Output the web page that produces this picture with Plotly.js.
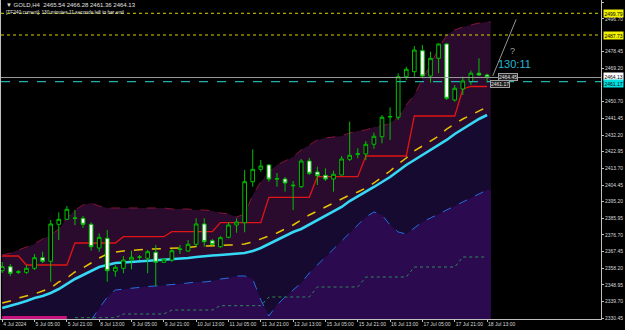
<!DOCTYPE html>
<html><head><meta charset="utf-8">
<script src="https://cdn.plot.ly/plotly-3.0.1.min.js"></script>
<style>html,body{margin:0;padding:0;background:#000;}#chart{width:625px;height:330px;}</style>
</head><body><div id="chart"></div>
<script>
// ---- data (GOLD, H4) ----
const tickBars = [0,4,8,12,16,20,24,28,32,36,40,44,48,52,56,60];
const tickLabels = ['4 Jul 2024','5 Jul 05:00','5 Jul 21:00','8 Jul 13:00','9 Jul 05:00','9 Jul 21:00','10 Jul 13:00','11 Jul 05:00','11 Jul 21:00','12 Jul 13:00','15 Jul 05:00','15 Jul 21:00','16 Jul 13:00','17 Jul 05:00','17 Jul 21:00','18 Jul 13:00'];
const priceTicks = [2330.45,2339.70,2348.95,2358.20,2367.45,2376.70,2385.95,2395.20,2404.45,2413.70,2422.95,2432.20,2441.45,2450.70,2469.20,2478.45,2496.70,2505.90];
const priceTickText = priceTicks.map(v => v.toFixed(2));

const open  = [2356.88,2359.10,2355.90,2355.99,2358.21,2364.10,2362.10,2382.64,2385.40,2385.90,2385.97,2382.64,2369.48,2374.87,2356.71,2358.21,2362.81,2364.30,2363.76,2367.09,2361.54,2362.81,2368.60,2367.82,2371.53,2382.81,2373.53,2370.20,2375.42,2382.25,2383.52,2406.29,2413.17,2415.57,2407.70,2407.79,2404.00,2403.50,2417.78,2411.67,2409.84,2407.79,2410.01,2418.73,2421.50,2421.67,2427.06,2431.28,2442.20,2442.05,2464.59,2467.36,2479.02,2464.98,2474.80,2482.74,2451.65,2457.76,2461.81,2466.53,2465.54];
const high  = [2361.70,2360.60,2357.30,2360.00,2366.10,2367.43,2385.00,2389.30,2392.80,2390.60,2387.20,2383.75,2377.60,2379.50,2360.00,2365.00,2367.98,2365.60,2368.40,2371.20,2363.90,2368.90,2371.20,2373.90,2385.97,2385.97,2374.50,2376.10,2383.90,2385.97,2412.79,2424.28,2418.34,2416.00,2411.10,2408.90,2406.68,2418.90,2419.45,2414.60,2413.70,2412.40,2420.56,2439.60,2424.83,2428.90,2433.50,2443.30,2447.60,2466.50,2470.10,2481.60,2482.20,2478.46,2483.10,2483.13,2459.98,2464.60,2468.00,2474.80,2466.28];
const low   = [2355.60,2353.90,2355.00,2355.00,2357.30,2361.15,2350.77,2373.90,2385.00,2382.20,2380.60,2367.98,2367.40,2350.77,2353.55,2355.43,2357.66,2362.80,2355.43,2348.38,2361.15,2361.70,2366.15,2367.40,2370.20,2370.20,2370.80,2369.60,2374.87,2377.98,2378.20,2403.50,2411.84,2406.29,2403.50,2400.77,2390.60,2402.80,2410.00,2404.46,2406.70,2400.74,2410.00,2417.78,2419.30,2418.30,2424.60,2427.60,2429.40,2440.60,2462.80,2464.60,2463.70,2461.26,2466.50,2451.65,2450.70,2454.40,2460.00,2465.00,2461.36];
const close = [2359.10,2355.43,2356.30,2358.21,2364.10,2362.10,2382.81,2385.40,2390.97,2386.10,2382.64,2370.20,2375.42,2356.88,2358.77,2362.81,2364.32,2364.50,2367.43,2361.54,2363.21,2367.98,2368.90,2371.53,2382.81,2372.97,2371.48,2375.20,2382.25,2383.92,2406.29,2413.17,2415.01,2407.79,2408.00,2405.57,2404.30,2417.78,2410.96,2409.62,2407.79,2410.40,2418.90,2420.95,2421.80,2427.06,2431.50,2442.05,2442.50,2464.59,2468.70,2479.41,2464.98,2474.80,2482.74,2452.59,2458.15,2462.20,2466.53,2465.50,2464.13];

const upperBand = [2365.59,2366.70,2368.37,2370.03,2371.70,2374.48,2376.70,2380.03,2386.14,2390.58,2393.37,2394.46,2392.80,2391.69,2391.69,2391.69,2391.69,2391.69,2391.69,2391.69,2391.69,2391.13,2391.13,2391.13,2390.58,2390.58,2390.02,2388.91,2388.36,2386.69,2388.36,2398.91,2406.12,2411.68,2415.56,2417.78,2420.01,2423.89,2426.67,2429.45,2430.55,2431.11,2431.66,2433.33,2434.44,2435.00,2436.66,2437.22,2438.88,2442.21,2448.87,2454.43,2463.31,2471.08,2480.52,2487.74,2490.51,2492.18,2493.29,2494.40,2494.96];
const slowMA = [2336.17,2337.28,2338.67,2340.06,2341.72,2342.83,2344.50,2346.72,2349.49,2352.27,2354.49,2356.71,2358.93,2360.04,2361.15,2361.43,2361.71,2361.98,2362.26,2362.54,2362.82,2363.37,2363.65,2363.93,2364.48,2365.04,2365.31,2365.59,2365.87,2366.15,2366.70,2367.82,2369.48,2371.70,2373.92,2376.15,2378.37,2380.03,2382.53,2385.03,2387.53,2390.02,2392.25,2395.57,2398.07,2400.57,2403.35,2406.12,2408.90,2412.23,2415.56,2418.34,2421.11,2423.89,2426.67,2429.45,2432.77,2435.55,2438.32,2441.10,2443.32];
const fastMA = [2338.94,2340.06,2341.72,2342.83,2343.94,2345.61,2347.27,2350.60,2352.82,2356.16,2358.37,2361.15,2363.93,2366.15,2367.26,2367.82,2368.37,2368.54,2368.76,2368.93,2369.09,2369.20,2369.31,2369.76,2370.31,2370.59,2370.87,2371.15,2371.15,2371.15,2371.70,2372.81,2374.48,2376.15,2377.81,2380.03,2382.25,2385.03,2387.81,2390.02,2392.25,2394.46,2396.68,2398.91,2400.57,2402.79,2405.57,2408.90,2412.23,2416.12,2419.45,2423.34,2426.11,2428.89,2431.66,2435.55,2438.32,2441.10,2443.32,2445.55,2447.76];
const dailyLevel = [2365.04,2365.04,2365.04,2360.04,2360.04,2360.04,2360.04,2360.04,2360.04,2372.26,2372.26,2372.26,2372.26,2372.26,2372.26,2375.76,2375.76,2375.76,2375.76,2375.76,2375.76,2378.53,2378.53,2378.53,2378.53,2378.53,2378.53,2383.53,2383.53,2383.53,2383.53,2383.53,2383.53,2397.63,2397.63,2397.63,2397.63,2397.63,2397.63,2409.07,2409.07,2409.07,2409.07,2409.07,2409.07,2420.56,2420.56,2420.56,2420.56,2420.56,2420.56,2442.77,2442.77,2442.77,2442.77,2442.77,2442.77,2457.76,2459.15,2459.15,2459.15];
const lowLevel = [null,null,null,null,null,null,null,null,null,2330.78,2330.78,2330.78,2330.78,2330.78,2330.78,2332.84,2332.84,2332.84,2332.84,2332.84,2332.84,2335.06,2335.06,2335.06,2335.06,2335.06,2335.06,2337.45,2337.45,2337.45,2337.45,2337.45,2337.45,2342.28,2342.28,2342.28,2342.28,2342.28,2342.28,2347.83,2347.83,2347.83,2347.83,2347.83,2347.83,2353.38,2353.38,2353.38,2353.38,2353.38,2353.38,2358.93,2358.93,2358.93,2358.93,2358.93,2358.93,2364.48,2364.48,2364.48,2364.48];
const lowerCloud = [null,null,null,null,null,null,null,null,null,null,null,2329.51,2336.17,2342.28,2346.16,2346.72,2347.27,2347.83,2348.11,2348.38,2348.94,2349.22,2349.49,2350.05,2350.60,2350.60,2351.16,2352.27,2352.82,2353.94,2353.94,2352.27,2340.61,2331.73,2337.83,2342.28,2346.16,2350.05,2355.60,2360.04,2364.48,2368.37,2372.81,2377.81,2382.25,2386.69,2389.47,2387.80,2382.25,2378.36,2377.25,2380.59,2383.92,2386.14,2388.36,2390.58,2392.80,2395.02,2397.24,2399.46,2401.68];

const resistance1 = 2499.79, resistance2 = 2487.73, bidPrice = 2464.13, cyanLevel = 2461.80;
const trendX = [60.7, 63.6], trendY = [2465.0, 2496.4];
const sessionBars = [0, 8];
const headerText = '\u25BC GOLD,H4  2465.54 2466.28 2461.36 2464.13';
const timerText = '[TF240 current]: 130 minutes 11 seconds left to bar end';

// ---- build ----
const N = open.length;
const idx = open.map((_, i) => i);
const xe = idx.concat([N - 1 + 0.45]);
const ext = a => a.concat([a[a.length - 1]]);
const yBottom = 2330.06, yTop = 2507.17;
const xRange = [-0.15, 74.1];

const traces = [
  {x: xe, y: ext(upperBand), type:'scatter', mode:'lines', fill:'tozeroy', fillcolor:'#2a0b2d',
   line:{color:'#8a1238', width:1, dash:'dash'}, hoverinfo:'skip'},
  {x: xe, y: ext(slowMA), type:'scatter', mode:'lines', fill:'tozeroy', fillcolor:'#170a30',
   line:{color:'rgba(0,0,0,0)', width:0}, hoverinfo:'skip'},
  {x: xe, y: ext(lowerCloud), type:'scatter', mode:'lines', fill:'tozeroy', fillcolor:'#2b0a50',
   line:{color:'#2070e0', width:1, dash:'dash'}, hoverinfo:'skip', connectgaps:false},
  {x: idx, y: lowLevel, type:'scatter', mode:'lines', line:{color:'#2e8b57', width:1, dash:'dot'}, hoverinfo:'skip'},
  {x: idx, y: dailyLevel, type:'scatter', mode:'lines', line:{color:'#e01515', width:1.3}, hoverinfo:'skip'},
  {x: idx, y: fastMA, type:'scatter', mode:'lines', line:{color:'#e8c400', width:1.5, dash:'dash'}, hoverinfo:'skip'},
  {x: idx, y: slowMA, type:'scatter', mode:'lines', line:{color:'#35d8f5', width:2.6}, hoverinfo:'skip'},
  {x: sessionBars, y: [yBottom + 0.8, yBottom + 0.8], type:'scatter', mode:'lines', line:{color:'#c8157e', width:3}, hoverinfo:'skip'},
  {x: idx, open: open, high: high, low: low, close: close, type:'candlestick', xaxis:'x2', yaxis:'y2',
   increasing:{line:{color:'#00c000', width:1}, fillcolor:'#000000'},
   decreasing:{line:{color:'#00c000', width:1}, fillcolor:'#ffffff'},
   whiskerwidth:0, hoverinfo:'skip'},
  {x: trendX, y: trendY, type:'scatter', mode:'lines', xaxis:'x2', yaxis:'y2', line:{color:'#bdbdbd', width:0.8}, hoverinfo:'skip'}
];

const hline = (y, color, dash, w) => ({type:'line', xref:'paper', x0:0, x1:1, yref:'y', y0:y, y1:y,
  line:{color:color, width:w || 1, dash:dash}, layer:'above'});

const FAM = 'Liberation Sans, Arial, sans-serif';
const xFont = {family:FAM, size:5, color:'#d8d8d8'};
const yFont = {family:FAM, size:5, color:'#d8d8d8'};
const boxLabel = (y, text, bg, ys) => ({xref:'paper', x:1, xanchor:'left', xshift:2, yshift:ys || 0, yref:'y', y:y, yanchor:'middle',
  text:text, showarrow:false, bgcolor:bg, font:{family:FAM, size:5, color:'#000'}, borderpad:0.5});

const layout = {
  width:625, height:330, margin:{l:1, r:24, t:0, b:11},
  paper_bgcolor:'#000', plot_bgcolor:'#000', showlegend:false, boxgap:0.35,
  xaxis:{range:xRange, showgrid:false, zeroline:false, tickvals:tickBars, ticktext:tickLabels,
    ticks:'outside', ticklen:2, tickcolor:'#c0c0c0', tickfont:xFont, tickangle:0, ticklabelposition:'outside right',
    automargin:false,
    showline:true, linecolor:'#c0c0c0', linewidth:1, rangeslider:{visible:false}, fixedrange:true},
  yaxis:{range:[yBottom, yTop], side:'right', showgrid:false, zeroline:false, tickvals:priceTicks, ticktext:priceTickText,
    ticks:'outside', ticklen:2, tickcolor:'#c0c0c0', tickfont:yFont, showline:true, mirror:true, automargin:false,
    linecolor:'#c0c0c0', linewidth:1, fixedrange:true},
  xaxis2:{overlaying:'x', range:xRange, visible:false, rangeslider:{visible:false}, fixedrange:true},
  yaxis2:{overlaying:'y', range:[yBottom, yTop], visible:false, fixedrange:true},
  shapes:[
    hline(resistance1, '#d4d400', 'dot', 1),
    hline(resistance2, '#d4d400', 'dot', 1),
    hline(bidPrice, '#9a9a9a', 'solid', 1),
    hline(cyanLevel, '#20b0b0', 'dash', 1.2)
  ],
  annotations:[
    {xref:'paper', yref:'paper', x:0.005, y:1, xanchor:'left', yanchor:'top', yshift:0, showarrow:false,
      text:headerText, font:{family:FAM, size:6, color:'#e0e0e0'}},
    {xref:'paper', yref:'paper', x:0.005, y:1, xanchor:'left', yanchor:'top', yshift:-8, showarrow:false,
      text:timerText, font:{family:FAM, size:4.8, color:'#e0e0e0'}},
    boxLabel(resistance1, resistance1.toFixed(2), '#f0f000'),
    boxLabel(resistance2, resistance2.toFixed(2), '#f0f000'),
    boxLabel(bidPrice, bidPrice.toFixed(2), '#ffffff', 1),
    boxLabel(cyanLevel, '2461.17', '#00e0e0', -2),
    {xref:'x', yref:'y', x:63.4, y:2471.5, text:'130:11', showarrow:false,
      font:{family:FAM, size:11, color:'#20b8d0'}},
    {xref:'x', yref:'y', x:63.2, y:2479.0, text:'?', showarrow:false,
      font:{family:FAM, size:9, color:'#a0a0a0'}},
    {xref:'x', yref:'y', x:61.4, y:2464.6, xanchor:'left', text:'2464.45', showarrow:false, bgcolor:'#202020',
      bordercolor:'#a0a0a0', borderwidth:1, borderpad:0, font:{family:FAM, size:5, color:'#e0e0e0'}},
    {xref:'x', yref:'y', x:60.4, y:2460.4, xanchor:'left', text:'2461.17', showarrow:false, bgcolor:'#202020',
      bordercolor:'#a0a0a0', borderwidth:1, borderpad:0, font:{family:FAM, size:5, color:'#e0e0e0'}}
  ]
};

Plotly.newPlot('chart', traces, layout, {staticPlot:true, displayModeBar:false});
</script>
</body></html>
